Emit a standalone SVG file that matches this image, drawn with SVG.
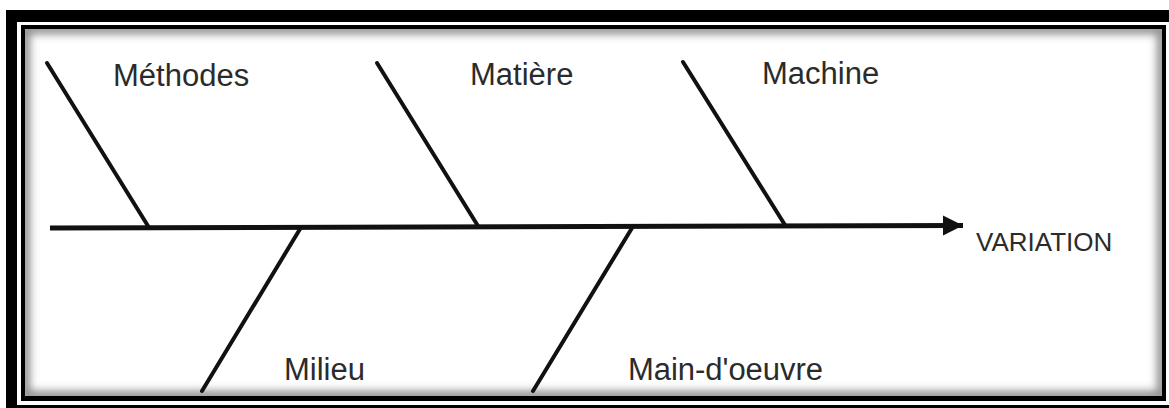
<svg xmlns="http://www.w3.org/2000/svg" width="1169" height="408" viewBox="0 0 1169 408">
<style>
.lbl{font-family:"Liberation Sans",Arial,sans-serif;font-size:31px;fill:#2b2b2b}
.eff{font-family:"Liberation Sans",Arial,sans-serif;font-size:26px;fill:#2b2b2b}
.bone{stroke:#111;stroke-width:4;stroke-linecap:round;fill:none}
.spine{stroke:#111;stroke-width:5;fill:none}
</style>
<defs>
<marker id="arr" markerUnits="userSpaceOnUse" markerWidth="22" markerHeight="22" refX="20" refY="11" orient="auto">
<path d="M0,1 L20,11 L0,21 z" fill="#111"/>
</marker>
<clipPath id="inner"><rect x="25" y="29" width="1137" height="367"/></clipPath>
<filter id="blur" x="-5%" y="-5%" width="110%" height="110%"><feGaussianBlur stdDeviation="4"/></filter>
</defs>
<rect width="1169" height="408" fill="#fff"/>
<g id="frame">
<rect x="6" y="10" width="1163" height="398" fill="#000"/>
<rect x="17" y="22" width="1152" height="383" fill="#fff"/>
<rect x="21" y="25" width="1145" height="376" fill="#000"/>
<rect x="25" y="29" width="1137" height="367" fill="#fff"/>
<g clip-path="url(#inner)">
<rect x="25" y="29" width="1137" height="367" fill="none" stroke="#8a8a8a" stroke-width="10" filter="url(#blur)"/>
</g>
</g>
<g id="connectors">
<line class="spine" x1="50" y1="228" x2="963" y2="225.5" marker-end="url(#arr)"/>
<line class="bone" x1="47" y1="63" x2="148" y2="226"/>
<line class="bone" x1="377" y1="63" x2="478" y2="226"/>
<line class="bone" x1="683" y1="62" x2="785" y2="225"/>
<line class="bone" x1="202" y1="391" x2="300" y2="229"/>
<line class="bone" x1="533" y1="391" x2="632" y2="228"/>
</g>
<g id="methodes"><text class="lbl" x="113" y="86">Méthodes</text></g>
<g id="matiere"><text class="lbl" x="470" y="85">Matière</text></g>
<g id="machine"><text class="lbl" x="762" y="84">Machine</text></g>
<g id="milieu"><text class="lbl" x="284" y="380">Milieu</text></g>
<g id="main-oeuvre"><text class="lbl" x="628" y="380" textLength="195" lengthAdjust="spacing">Main-d'oeuvre</text></g>
<g id="variation"><text class="eff" x="976" y="251">VARIATION</text></g>
</svg>
